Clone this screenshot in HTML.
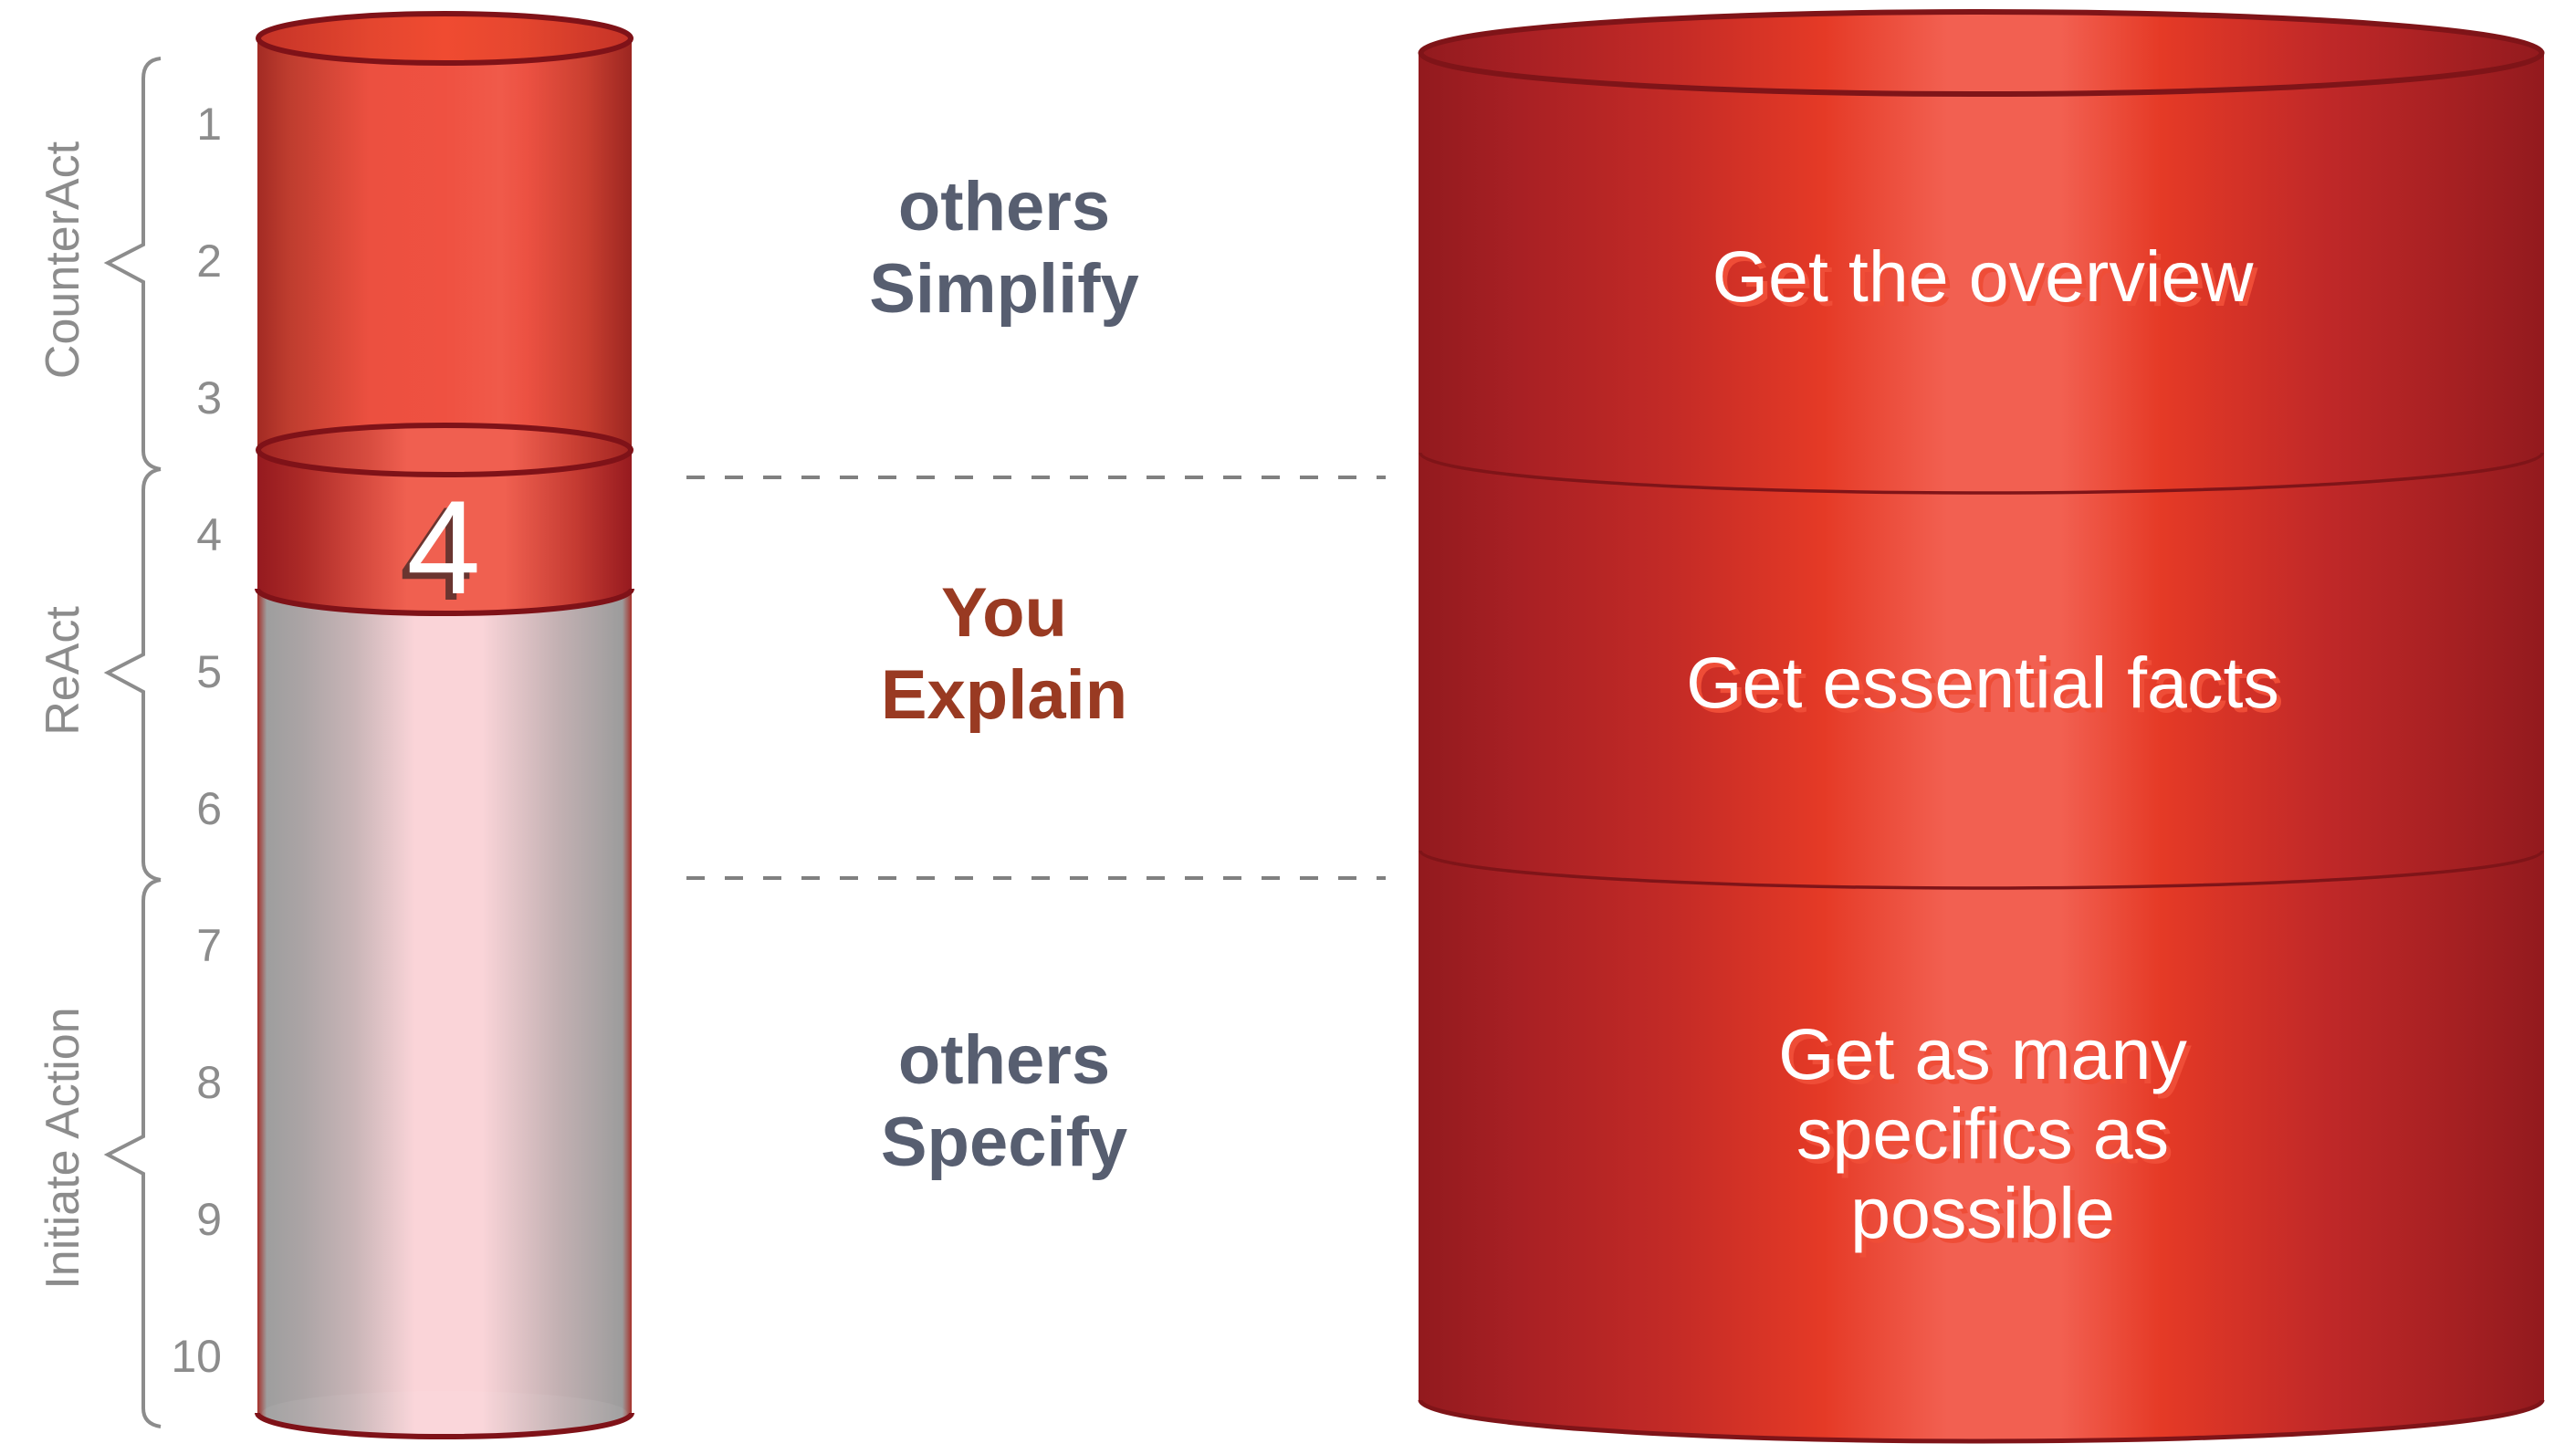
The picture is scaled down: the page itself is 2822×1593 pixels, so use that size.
<!DOCTYPE html>
<html>
<head>
<meta charset="utf-8">
<style>
  html, body { margin: 0; padding: 0; background: #ffffff; }
  body { width: 2822px; height: 1593px; overflow: hidden; }
  svg { display: block; }
</style>
</head>
<body>
<svg width="2822" height="1593" viewBox="0 0 2822 1593" xmlns="http://www.w3.org/2000/svg">
  <defs>
    <linearGradient id="gA" x1="0" y1="0" x2="1" y2="0">
      <stop offset="0" stop-color="#a32b24"/>
      <stop offset="0.08" stop-color="#bd3c2e"/>
      <stop offset="0.3" stop-color="#ec5040"/>
      <stop offset="0.5" stop-color="#ef5141"/>
      <stop offset="0.65" stop-color="#f05a4a"/>
      <stop offset="0.72" stop-color="#ec5142"/>
      <stop offset="0.88" stop-color="#c93f30"/>
      <stop offset="1" stop-color="#9c2621"/>
    </linearGradient>
    <linearGradient id="gE" x1="0" y1="0" x2="1" y2="0">
      <stop offset="0" stop-color="#c53327"/>
      <stop offset="0.3" stop-color="#e4462f"/>
      <stop offset="0.5" stop-color="#f04b31"/>
      <stop offset="0.7" stop-color="#e6472f"/>
      <stop offset="1" stop-color="#c53327"/>
    </linearGradient>
    <linearGradient id="gB" x1="0" y1="0" x2="1" y2="0">
      <stop offset="0" stop-color="#a02421"/>
      <stop offset="0.3" stop-color="#d84d40"/>
      <stop offset="0.4" stop-color="#f05f50"/>
      <stop offset="0.68" stop-color="#f05f50"/>
      <stop offset="0.85" stop-color="#c93f33"/>
      <stop offset="1" stop-color="#a02421"/>
    </linearGradient>
    <linearGradient id="gC" x1="0" y1="0" x2="1" y2="0">
      <stop offset="0" stop-color="#951a1f"/>
      <stop offset="0.12" stop-color="#ac2a27"/>
      <stop offset="0.3" stop-color="#d94d41"/>
      <stop offset="0.4" stop-color="#f06050"/>
      <stop offset="0.66" stop-color="#f06050"/>
      <stop offset="0.85" stop-color="#c53b32"/>
      <stop offset="1" stop-color="#961a1f"/>
    </linearGradient>
    <linearGradient id="gD" x1="0" y1="0" x2="1" y2="0">
      <stop offset="0" stop-color="#a6302a"/>
      <stop offset="0.025" stop-color="#9e9e9e"/>
      <stop offset="0.12" stop-color="#aba4a5"/>
      <stop offset="0.26" stop-color="#c9b5b7"/>
      <stop offset="0.42" stop-color="#fad4d8"/>
      <stop offset="0.6" stop-color="#fad4d8"/>
      <stop offset="0.8" stop-color="#c4b1b3"/>
      <stop offset="0.975" stop-color="#9c9c9c"/>
      <stop offset="1" stop-color="#a6302a"/>
    </linearGradient>
    <linearGradient id="gR" x1="0" y1="0" x2="1" y2="0">
      <stop offset="0" stop-color="#921a1e"/>
      <stop offset="0.09" stop-color="#a82024"/>
      <stop offset="0.22" stop-color="#c22a26"/>
      <stop offset="0.36" stop-color="#e53a26"/>
      <stop offset="0.47" stop-color="#f26051"/>
      <stop offset="0.57" stop-color="#f26051"/>
      <stop offset="0.66" stop-color="#e53a26"/>
      <stop offset="0.81" stop-color="#bf2828"/>
      <stop offset="1" stop-color="#931a1e"/>
    </linearGradient>
  </defs>

  <g fill="none" stroke="#8c8c8c" stroke-width="4" stroke-linejoin="miter">
    <path d="M176,64 Q157,66 157,86 L157,268 L118,288 L157,309 L157,494 Q157,511 176,514"/>
    <path d="M176,514 Q157,517 157,537 L157,717 L118,737 L157,758 L157,944 Q157,961 176,964"/>
    <path d="M176,964 Q157,967 157,987 L157,1245 L118,1265 L157,1286 L157,1543 Q157,1560 176,1563"/>
  </g>

  <g font-family="'Liberation Sans', Arial, sans-serif" font-size="52" fill="#8c8c8c" text-anchor="middle">
    <text transform="translate(86,285) rotate(-90)">CounterAct</text>
    <text transform="translate(86,735) rotate(-90)">ReAct</text>
    <text transform="translate(86,1258) rotate(-90)">Initiate Action</text>
  </g>

  <g font-family="'Liberation Sans', Arial, sans-serif" font-size="50" fill="#8c8c8c" text-anchor="end">
    <text x="243" y="153">1</text>
    <text x="243" y="303">2</text>
    <text x="243" y="453">3</text>
    <text x="243" y="603">4</text>
    <text x="243" y="753">5</text>
    <text x="243" y="903">6</text>
    <text x="243" y="1053">7</text>
    <text x="243" y="1203">8</text>
    <text x="243" y="1353">9</text>
    <text x="243" y="1503">10</text>
  </g>

  <path d="M282,645 L282,1548 A205,26 0 0 0 692,1548 L692,645 Z" fill="url(#gD)"/>
  <ellipse cx="487" cy="1548" rx="200" ry="24" fill="#ffffff" opacity="0.06"/>
  <path d="M282,1548 A205,26 0 0 0 692,1548" fill="none" stroke="#7f1218" stroke-width="6"/>
  <path d="M282,493 L282,645 A205,27 0 0 0 692,645 L692,493 Z" fill="url(#gC)"/>
  <path d="M282,645 A205,27 0 0 0 692,645" fill="none" stroke="#7f1218" stroke-width="6"/>
  <rect x="282" y="42" width="410" height="451" fill="url(#gA)"/>
  <ellipse cx="487" cy="493" rx="204" ry="27" fill="url(#gB)" stroke="#7f1218" stroke-width="6"/>
  <ellipse cx="487" cy="42" rx="204" ry="27" fill="url(#gE)" stroke="#7f1218" stroke-width="6"/>

  <g font-family="'Liberation Sans', Arial, sans-serif" font-size="146" text-anchor="middle">
    <text x="478" y="657" fill="#6a3530">4</text>
    <text x="486" y="650" fill="#ffffff">4</text>
  </g>

  <g stroke="#808080" stroke-width="4" stroke-dasharray="20 22">
    <line x1="752" y1="523" x2="1518" y2="523"/>
    <line x1="752" y1="962" x2="1518" y2="962"/>
  </g>
  <g font-family="'Liberation Sans', Arial, sans-serif" font-size="76" font-weight="bold" text-anchor="middle">
    <text x="1100" y="252" fill="#575e70">others</text>
    <text x="1100" y="342" fill="#575e70">Simplify</text>
    <text x="1100" y="697" fill="#993a22">You</text>
    <text x="1100" y="787" fill="#993a22">Explain</text>
    <text x="1100" y="1187" fill="#575e70">others</text>
    <text x="1100" y="1277" fill="#575e70">Specify</text>
  </g>

  <path d="M1554,58 L1554,1534 A616.5,46 0 0 0 2787,1534 L2787,58 Z" fill="url(#gR)"/>
  <path d="M1556,1534 A614.5,45 0 0 0 2785,1534" fill="none" stroke="#7f1418" stroke-width="5"/>
  <path d="M1556,496 A614.5,44 0 0 0 2785,496" fill="none" stroke="#7f1418" stroke-width="3.5"/>
  <path d="M1556,932 A614.5,41 0 0 0 2785,932" fill="none" stroke="#7f1418" stroke-width="3.5"/>
  <ellipse cx="2170.5" cy="58" rx="614" ry="45" fill="url(#gR)" stroke="#7f1418" stroke-width="6"/>

  <g font-family="'Liberation Sans', Arial, sans-serif" font-size="79" text-anchor="middle">
    <g fill="#ef4d37">
      <text x="2177" y="335">Get the overview</text>
      <text x="2177" y="780">Get essential facts</text>
      <text x="2177" y="1187">Get as many</text>
      <text x="2177" y="1274">specifics as</text>
      <text x="2177" y="1361">possible</text>
    </g>
    <g fill="#ffffff">
      <text x="2172" y="330">Get the overview</text>
      <text x="2172" y="775">Get essential facts</text>
      <text x="2172" y="1182">Get as many</text>
      <text x="2172" y="1269">specifics as</text>
      <text x="2172" y="1356">possible</text>
    </g>
  </g>
</svg>
</body>
</html>
